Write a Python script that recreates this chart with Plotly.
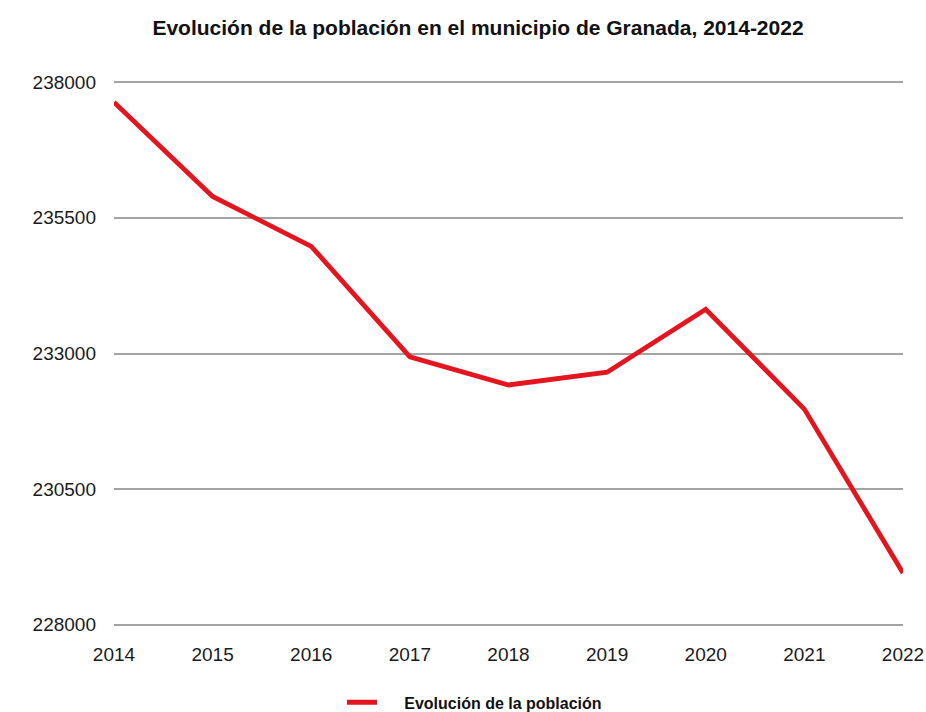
import plotly.graph_objects as go

years = ["2014", "2015", "2016", "2017", "2018", "2019", "2020", "2021", "2022"]
poblacion = [237630, 235895, 234975, 232940, 232420, 232655, 233815, 231975, 228955]
y_ticks = [228000, 230500, 233000, 235500, 238000]

fig = go.Figure()
fig.add_trace(go.Scatter(
    x=years, y=poblacion, mode="lines",
    name="<b>" + "&nbsp;" * 5 + "Evolución de la población</b>",
    line=dict(color="#e3151f", width=4.8),
))

fig.update_layout(
    width=926, height=712,
    paper_bgcolor="white", plot_bgcolor="white",
    margin=dict(l=114, r=23, t=79.5, b=84.5, autoexpand=False),
    title=dict(
        text="<b>Evolución de la población en el municipio de Granada, 2014-2022</b>",
        x=478 / 926, xanchor="center", xref="container",
        y=1 - 28 / 712, yanchor="middle", yref="container",
        font=dict(family="Liberation Sans Narrow, Arial Narrow, Liberation Sans, Arial", size=21, color="#111111"),
    ),
    font=dict(family="Liberation Sans, Arial, Helvetica", size=19, color="#1a1a1a"),
    showlegend=True,
    legend=dict(
        orientation="h", x=(342 - 114) / 789, xanchor="left", y=-(703 - 627.5) / 548, yanchor="middle",
        font=dict(family="Liberation Sans Narrow, Arial Narrow, Liberation Sans, Arial", size=16, color="#111111"),
    ),
)
fig.update_xaxes(
    type="category", showgrid=False, zeroline=False, showline=False, automargin=False,
    ticks="", ticklabelstandoff=14, range=[0, 8],
    tickfont=dict(size=19),
)
fig.update_yaxes(
    range=[227960, 238040], tickvals=y_ticks, ticktext=[str(v) for v in y_ticks],
    showgrid=True, gridcolor="#a3a3a3", gridwidth=2, zeroline=False, showline=False, automargin=False,
    ticks="", ticklabelstandoff=17, tickfont=dict(size=19),
)
fig.write_html("out.html", config={"displayModeBar": False},
               post_script="document.body.style.margin='0';")
